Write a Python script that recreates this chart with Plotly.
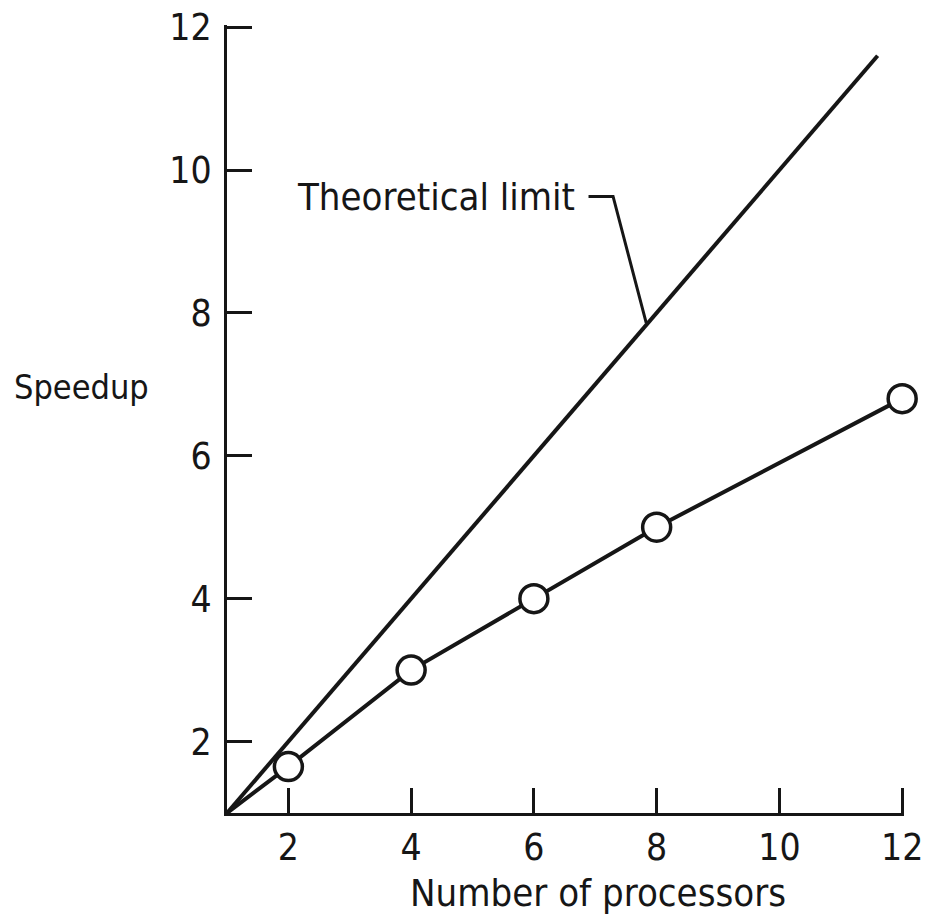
import plotly.graph_objects as go

# ---- data ----
processors = [1, 2, 4, 6, 8, 12]
speedup = [1, 1.65, 3, 4, 5, 6.8]
marker_processors = [2, 4, 6, 8, 12]
marker_speedup = [1.65, 3, 4, 5, 6.8]
theory_x = [1, 11.6]
theory_y = [1, 11.6]
tick_vals = [2, 4, 6, 8, 10, 12]
tick_text = ["2", "4", "6", "8", "10", "12"]
leader_x = [6.89, 7.29, 7.83]
leader_y = [9.63, 9.63, 7.86]

INK = "#161616"
TITLE_FONT = "DejaVu Sans Condensed, sans-serif"
TICK_FONT = "DejaVu Sans Condensed, sans-serif"

fig = go.Figure()
fig.add_trace(go.Scatter(x=theory_x, y=theory_y, mode="lines",
                         line=dict(color=INK, width=4), hoverinfo="skip",
                         showlegend=False, cliponaxis=False))
fig.add_trace(go.Scatter(x=processors, y=speedup, mode="lines",
                         line=dict(color=INK, width=4), showlegend=False,
                         cliponaxis=False))
fig.add_trace(go.Scatter(x=marker_processors, y=marker_speedup, mode="markers",
                         marker=dict(size=28, color="white",
                                     line=dict(color=INK, width=3.5)),
                         showlegend=False, cliponaxis=False))
# leader line of the annotation
fig.add_trace(go.Scatter(x=leader_x, y=leader_y, mode="lines",
                         line=dict(color=INK, width=3), hoverinfo="skip",
                         showlegend=False, cliponaxis=False))

axis_common = dict(
    showgrid=False, zeroline=False, showline=True, linecolor=INK, linewidth=3,
    ticks="inside", ticklen=25, tickwidth=3, tickcolor=INK,
    tickvals=tick_vals, ticktext=tick_text, automargin=False,
    ticklabeloverflow="allow",
    tickfont=dict(family=TICK_FONT, size=37, color=INK),
)
# range ends a little past 12 so the end ticks at 12 are drawn
fig.update_xaxes(range=[1, 12.03], ticklabelstandoff=0, **axis_common)
fig.update_yaxes(range=[1, 12.03], ticklabelstandoff=5, **axis_common)

fig.add_annotation(text="Theoretical limit", x=6.7, y=9.62, xref="x", yref="y",
                   xanchor="right", yanchor="middle", showarrow=False,
                   font=dict(family=TITLE_FONT, size=38, color=INK))
fig.add_annotation(text="Speedup", x=-0.112, y=0.54, xref="paper", yref="paper",
                   xanchor="right", yanchor="middle", showarrow=False,
                   font=dict(family=TITLE_FONT, size=34, color=INK))
fig.add_annotation(text="Number of processors", x=0.548, y=-0.1015,
                   xref="paper", yref="paper", xanchor="center",
                   yanchor="middle", showarrow=False,
                   font=dict(family=TITLE_FONT, size=38, color=INK))

fig.update_layout(width=926, height=923,
                  margin=dict(l=227, r=22, t=25, b=110),
                  plot_bgcolor="white", paper_bgcolor="white")

fig.write_html(
    "out.html",
    config={"displayModeBar": False},
    post_script="document.body.style.margin='0';"
                "document.body.style.overflow='hidden';",
)
